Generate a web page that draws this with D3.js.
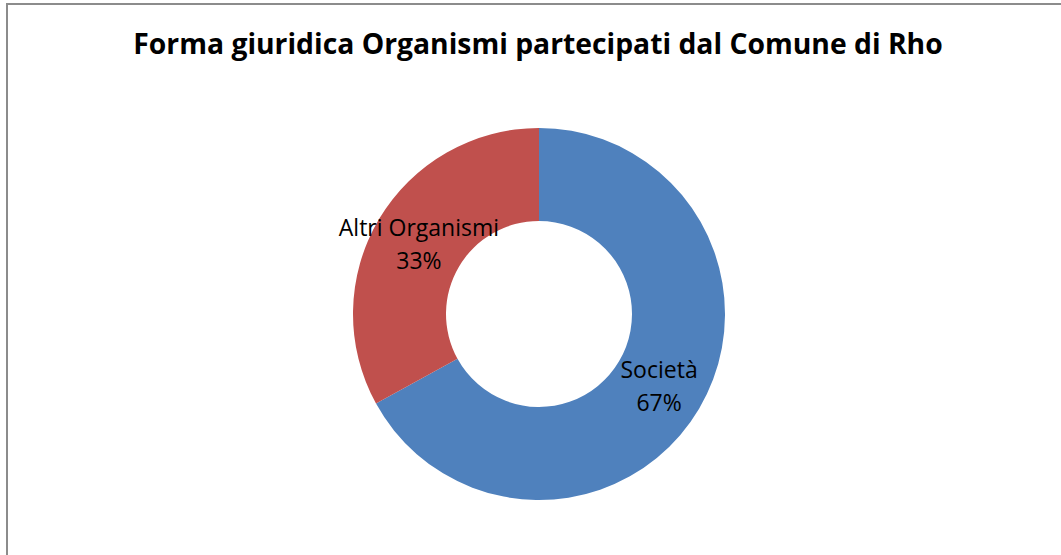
<!DOCTYPE html>
<html lang="it">
<head>
    <meta charset="UTF-8">
    <title>Forma giuridica Organismi partecipati</title>
    <script src="https://cdn.jsdelivr.net/npm/d3@7"></script>
    <style>
        body { margin: 0; background: #fff; }
    </style>
</head>
<body>
<script type="text/javascript">
    var categories = ["Società", "Altri Organismi"];
    var values = [67, 33];
    var colors = ["#4F81BD", "#C0504D"];

    var width = 1061, height = 555;
    var cx = 539, cy = 314, outerR = 186, innerR = 93;

    var svg = d3.select("body").append("svg")
            .attr("width", width)
            .attr("height", height);

    // chart frame
    svg.append("rect")
            .attr("x", 7).attr("y", 4)
            .attr("width", width + 10).attr("height", height + 10)
            .attr("fill", "#fff")
            .attr("stroke", "#8c8c8c")
            .attr("stroke-width", 2);

    svg.append("text")
            .attr("x", 538).attr("y", 54)
            .attr("text-anchor", "middle")
            .attr("font-family", "'Open Sans', sans-serif")
            .attr("font-weight", "bold")
            .attr("font-size", 28.3)
            .text("Forma giuridica Organismi partecipati dal Comune di Rho");

    var data = categories.map(function(c, i) { return {name: c, value: values[i]}; });
    var total = d3.sum(values);

    var pie = d3.pie().sort(null).value(function(d) { return d.value; });
    var arc = d3.arc().innerRadius(innerR).outerRadius(outerR);

    var g = svg.append("g").attr("transform", "translate(" + cx + "," + cy + ")");

    var slices = g.selectAll("g.slice").data(pie(data)).enter().append("g");

    slices.append("path")
            .attr("d", arc)
            .attr("fill", function(d, i) { return colors[i]; });

    var labels = slices.append("text")
            .attr("transform", function(d) { return "translate(" + arc.centroid(d) + ")"; })
            .attr("text-anchor", "middle")
            .attr("font-family", "'Open Sans', sans-serif")
            .attr("font-size", 23)
            .attr("fill", "#000");

    labels.append("tspan")
            .attr("x", 0).attr("y", -7)
            .text(function(d) { return d.data.name; });
    labels.append("tspan")
            .attr("x", 0).attr("y", 26)
            .text(function(d) { return Math.round(d.data.value / total * 100) + "%"; });
</script>
</body>
</html>
